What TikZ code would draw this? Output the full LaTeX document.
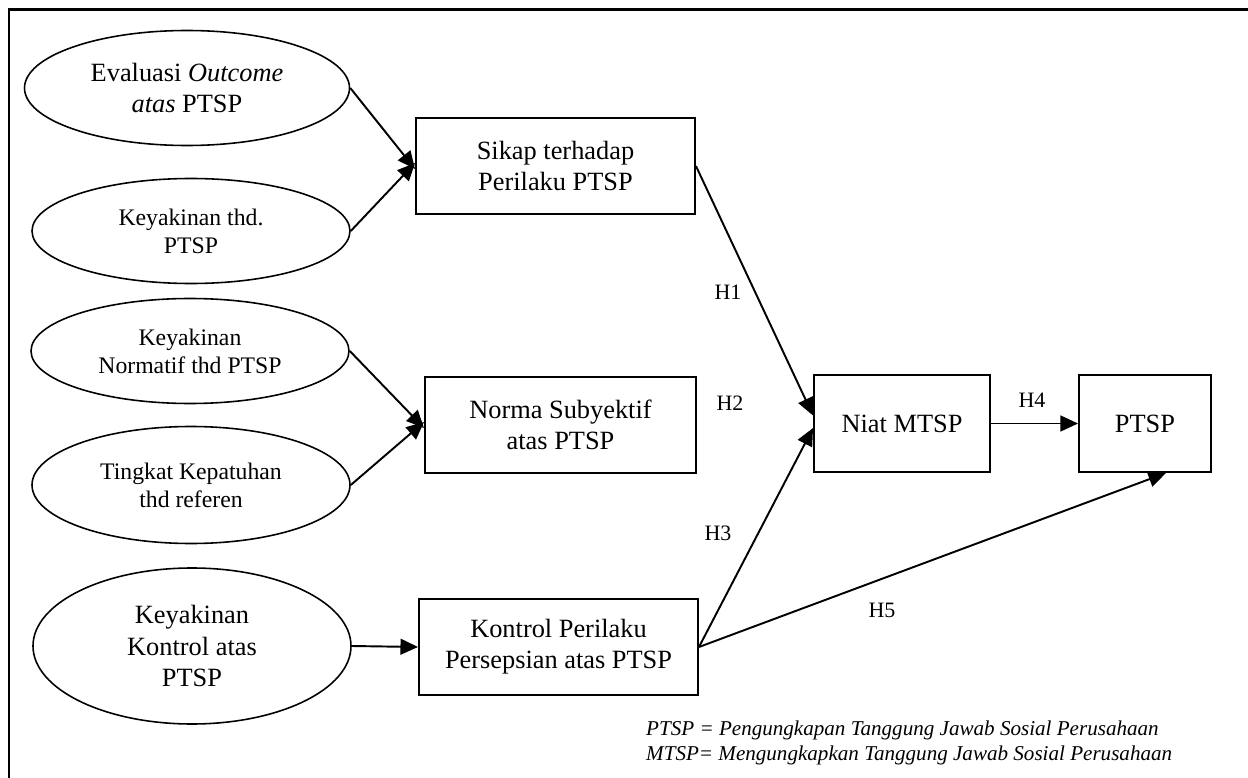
\documentclass[tikz,border=0pt]{standalone}
\usepackage{fontspec}
\setmainfont{Liberation Serif}
\usetikzlibrary{shapes,arrows.meta,positioning,calc}

\begin{document}
\begin{tikzpicture}[-,
  belief/.style={ellipse, draw, line width=0.9pt, inner sep=0pt, align=center, minimum width=6.36cm, minimum height=2.1cm},
  construct/.style={rectangle, draw, line width=1.1pt, inner sep=0pt, align=center, minimum width=5.58cm, minimum height=1.92cm, font=\fontsize{15}{17.8}\selectfont},
  hyp/.style={font=\fontsize{12.5}{14}\selectfont},
  note/.style={anchor=base west, font=\itshape\fontsize{12}{14}\selectfont},
  path/.style={line width=1.1pt, -{Triangle[length=10pt,width=9pt]}}]

\useasboundingbox (0,0) rectangle (24.96,-15.56);
\draw[line width=1.5pt] (24.96,-0.19) -- (0.18,-0.19) -- (0.18,-15.56);

% beliefs
\node[belief, minimum width=6.5cm, minimum height=2.3cm, font=\fontsize{15}{17.8}\selectfont] (evaluasi) at (3.74,-1.76) {Evaluasi \textit{Outcome}\\\textit{atas} PTSP};
\node[belief, font=\fontsize{13.5}{16}\selectfont] (yakin) at (3.82,-4.62) {Keyakinan thd.\\PTSP};
\node[belief, font=\fontsize{13.5}{16}\selectfont] (normatif) at (3.80,-7.02) {Keyakinan\\Normatif thd PTSP};
\node[belief, minimum height=2.34cm, font=\fontsize{13.5}{16}\selectfont] (patuh) at (3.82,-9.70) {Tingkat Kepatuhan\\thd referen};
\node[belief, minimum height=3.12cm, font=\fontsize{15}{17.8}\selectfont] (kontrolyakin) at (3.84,-12.92) {Keyakinan\\Kontrol atas\\PTSP};

% constructs
\node[construct] (sikap) at (11.11,-3.32) {Sikap terhadap\\Perilaku PTSP};
\node[construct, minimum width=5.42cm] (norma) at (11.21,-8.50) {Norma Subyektif\\atas PTSP};
\node[construct] (kontrol) at (11.17,-12.94) {Kontrol Perilaku\\Persepsian atas PTSP};
\node[construct, minimum width=3.52cm, minimum height=1.94cm] (niat) at (18.04,-8.47) {Niat MTSP};
\node[construct, minimum width=2.64cm, minimum height=1.94cm] (ptsp) at (22.90,-8.47) {PTSP};

% hypotheses
\node[hyp] (h1) at (14.56,-5.84) {H1};
\node[hyp] (h2) at (14.60,-8.06) {H2};
\node[hyp] (h3) at (14.36,-10.66) {H3};
\node[hyp] (h4) at (20.64,-8.00) {H4};
\node[hyp] (h5) at (17.64,-12.20) {H5};

\draw[path] (evaluasi.east) -- ([yshift=-0.06cm]sikap.west);
\draw[path] (yakin.east) -- ([yshift=0.06cm]sikap.west);
\draw[path] (normatif.east) -- ([yshift=-0.06cm]norma.west);
\draw[path] (patuh.east) -- ([yshift=0.06cm]norma.west);
\draw[path] (kontrolyakin.east) -- (kontrol.west);
\draw[path] (sikap.east) -- ([yshift=0.16cm]niat.west);
\draw[path] (kontrol.east) -- ([yshift=-0.09cm]niat.west);
\draw[path] (niat.east) -- (ptsp.west);
\draw[path] (kontrol.east) -- ([xshift=0.42cm]ptsp.south);

\node[note] (note1) at (12.80,-14.70) {PTSP = Pengungkapan Tanggung Jawab Sosial Perusahaan};
\node[note] (note2) at (12.80,-15.20) {MTSP= Mengungkapkan Tanggung Jawab Sosial Perusahaan};

\end{tikzpicture}
\end{document}
